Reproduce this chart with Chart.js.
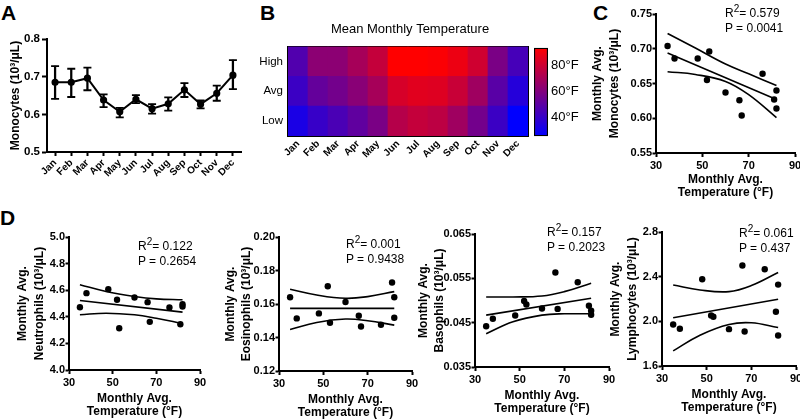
<!DOCTYPE html>
<html><head><meta charset="utf-8">
<script src="https://cdn.jsdelivr.net/npm/chart.js@4.4.1/dist/chart.umd.min.js"></script>
<style>
html,body{margin:0;padding:0;background:#fff;}
body{width:800px;height:419px;overflow:hidden;position:relative;font-family:"Liberation Sans",Arial,sans-serif;color:#000;}
canvas{position:absolute;}
.lbl{position:absolute;font-weight:bold;font-size:21px;line-height:21px;}
.stat{position:absolute;font-size:12px;line-height:14px;white-space:nowrap;}
.sup{position:relative;top:-5px;font-size:10px;}
</style></head><body>
<div class="lbl" style="left:1px;top:2px">A</div>
<div class="lbl" style="left:260px;top:2px">B</div>
<div class="lbl" style="left:593px;top:2px">C</div>
<div class="lbl" style="left:0px;top:207px">D</div>

<canvas id="cA" width="243" height="197" style="left:8px;top:0px"></canvas>
<canvas id="cB" width="324" height="162" style="left:248px;top:14px"></canvas>
<canvas id="cBar" width="80" height="110" style="left:520px;top:37px"></canvas>
<canvas id="cC" width="221" height="196" style="left:589px;top:4px"></canvas>
<canvas id="cD1" width="201" height="192" style="left:14px;top:227px"></canvas>
<canvas id="cD2" width="204" height="193" style="left:223px;top:227px"></canvas>
<canvas id="cD3" width="208" height="192" style="left:416px;top:224px"></canvas>
<canvas id="cD4" width="204" height="193" style="left:607px;top:222px"></canvas>

<div class="stat" style="left:725px;top:5.6px">R<span class="sup">2</span>= 0.579<br>P = 0.0041</div>
<div class="stat" style="left:138px;top:239px">R<span class="sup">2</span>= 0.122<br>P = 0.2654</div>
<div class="stat" style="left:346px;top:237px">R<span class="sup">2</span>= 0.001<br>P = 0.9438</div>
<div class="stat" style="left:547px;top:225px">R<span class="sup">2</span>= 0.157<br>P = 0.2023</div>
<div class="stat" style="left:739px;top:226px">R<span class="sup">2</span>= 0.061<br>P = 0.437</div>

<script>
// ---------------- DATA ----------------
const months = ['Jan','Feb','Mar','Apr','May','Jun','Jul','Aug','Sep','Oct','Nov','Dec'];

// Panel A: monthly monocytes mean with error bar limits
const monoMean    = [0.685,0.685,0.696,0.638,0.607,0.640,0.615,0.628,0.665,0.627,0.656,0.704];
const monoErrHigh = [0.728,0.721,0.724,0.653,0.617,0.651,0.627,0.645,0.683,0.637,0.676,0.744];
const monoErrLow  = [0.641,0.646,0.664,0.619,0.592,0.630,0.602,0.610,0.646,0.616,0.636,0.667];
const monoTicks = [0.5,0.6,0.7,0.8];

// Panel B: heat map temperatures (°F)
const heatRows = ['Low','Avg','High'];
const heatHigh = [47,63,63,70,78,94,94,93,89,81,58,44];
const heatAvg  = [41,52,56,62,70,83,86,85,79,68,49,35];
const heatLow  = [32,40,45,51,58,74,78,76,68,56,41,25];
const colorMin = 25, colorMax = 94;
const colorTicks = [40,60,80];

// Scatter panels: monthly average temperature (x)
const avgTemp = [35,38,48,52,53,60,66,67,76,81,82,82];
const tempTicks = [30,50,70,90];
const fitX  = [35,82];
const bandX = [35,47,60,70,82];

// C: monocytes
const monoAvg = [0.704,0.686,0.686,0.655,0.696,0.637,0.626,0.604,0.664,0.627,0.640,0.614];
const monoFit = [0.694,0.627];
const monoUp  = [0.722,0.701,0.678,0.664,0.647];
const monoLo  = [0.667,0.663,0.653,0.634,0.601];
const monoAvgTicks = [0.55,0.60,0.65,0.70,0.75];

// D1: neutrophils
const neutAvg = [4.472,4.578,4.608,4.528,4.314,4.545,4.510,4.362,4.470,4.344,4.495,4.477];
const neutFit = [4.523,4.435];
const neutUp  = [4.641,4.590,4.553,4.535,4.528];
const neutLo  = [4.415,4.427,4.415,4.389,4.349];
const neutTicks = [4.0,4.2,4.4,4.6,4.8,5.0];

// D2: eosinophils
const eosAvg = [0.164,0.1514,0.1544,0.1706,0.1488,0.1612,0.153,0.1466,0.1476,0.1728,0.164,0.1518];
const eosFit = [0.1574,0.1574];
const eosUp  = [0.1688,0.1654,0.1634,0.1644,0.1674];
const eosLo  = [0.1448,0.1490,0.1510,0.1500,0.1474];
const eosTicks = [0.12,0.14,0.16,0.18,0.20];

// D3: basophils
const basoAvg = [0.0442,0.0459,0.0466,0.0499,0.0491,0.0482,0.0563,0.0481,0.0541,0.0488,0.0477,0.0468];
const basoFit = [0.0467,0.0505];
const basoUp  = [0.0508,0.0508,0.0510,0.0520,0.0539];
const basoLo  = [0.0425,0.0452,0.0467,0.0470,0.0470];
const basoTicks = [0.035,0.045,0.055,0.065];

// D4: lymphocytes
const lymphAvg = [1.972,1.933,2.377,2.053,2.041,1.930,2.500,1.909,2.467,2.086,2.329,1.873];
const lymphFit = [2.032,2.197];
const lymphUp  = [2.326,2.281,2.266,2.320,2.437];
const lymphLo  = [1.735,1.876,1.972,1.987,1.945];
const lymphTicks = [1.6,2.0,2.4,2.8];

// ---------------- SETUP ----------------
Chart.defaults.font.family = '"Liberation Sans", Arial, sans-serif';
Chart.defaults.color = '#000';
Chart.defaults.animation = false;
Chart.defaults.responsive = false;
Chart.defaults.plugins.legend.display = false;
Chart.defaults.plugins.tooltip.enabled = false;

const BLACK = '#000';
const border2 = {display:true, color:BLACK, width:2};

function tempColor(v){
  let t = (v - colorMin)/(colorMax - colorMin);
  t = Math.max(0, Math.min(1, t));
  return `rgb(${Math.round(255*t)},0,${Math.round(255*(1-t))})`;
}

function yAxis(o){
  return {
    type:'linear', min:o.ticks[0], max:o.ticks[o.ticks.length-1],
    afterBuildTicks: ax => { ax.ticks = o.ticks.map(v => ({value:v})); },
    afterFit: ax => { ax.width = o.width; },
    ticks:{font:{size:o.fs, weight:'bold'}, padding:o.pad, autoSkip:false, callback: v => Number(v).toFixed(o.dec)},
    grid:{display:true, drawOnChartArea:false, drawTicks:true, tickLength:o.tl, tickWidth:2, tickColor:BLACK},
    border:border2,
    title:{display:true, text:o.title, font:{size:12, weight:'bold', lineHeight:o.lh}, padding:{top:0, bottom:0}, color:BLACK}
  };
}
function xTempAxis(H){
  return {
    type:'linear', min:30, max:90,
    afterBuildTicks: ax => { ax.ticks = tempTicks.map(v => ({value:v})); },
    afterFit: ax => { ax.height = H; },
    ticks:{font:{size:11, weight:'bold'}, padding:2.5, maxRotation:0, autoSkip:false},
    grid:{display:true, drawOnChartArea:false, drawTicks:true, tickLength:4, tickWidth:2, tickColor:BLACK},
    border:border2,
    title:{display:true, text:['Monthly Avg.','Temperature (°F)'], font:{size:12, weight:'bold', lineHeight:1.15}, padding:{top:0, bottom:0}, color:BLACK}
  };
}
function scatterPanel(id, vals, fit, up, lo, yo, H){
  const lineDs = (xs, ys, tension) => ({
    data: xs.map((x,i) => ({x, y:ys[i]})), showLine:true, pointRadius:0,
    borderColor:BLACK, borderWidth:1.6, tension:tension, fill:false
  });
  yo.fs = 11; yo.pad = 0.5; yo.tl = 3.5;
  new Chart(document.getElementById(id), {
    type:'scatter',
    data:{datasets:[
      {data: avgTemp.map((x,i) => ({x, y:vals[i]})), showLine:false, pointRadius:3.2,
       pointBackgroundColor:BLACK, pointBorderColor:BLACK, pointBorderWidth:0},
      lineDs(fitX, fit, 0),
      lineDs(bandX, up, 0.4),
      lineDs(bandX, lo, 0.4)
    ]},
    options:{
      layout:{padding:{left:0, top:10, right:15, bottom:0}},
      scales:{x:xTempAxis(H), y:yAxis(yo)}
    }
  });
}

// ---------------- PANEL A ----------------
new Chart(document.getElementById('cA'), {
  type:'line',
  data:{labels:months, datasets:[
    {type:'line', data:monoMean, borderColor:BLACK, borderWidth:2, pointRadius:2.6,
     pointBackgroundColor:BLACK, pointBorderColor:BLACK, tension:0, order:0},
    {type:'bar', data:monoErrLow.map((l,i) => [l, monoErrHigh[i]]), backgroundColor:BLACK,
     barThickness:1.6, order:1},
    {type:'line', data:monoErrHigh, showLine:false, pointStyle:'line', pointRadius:4,
     pointBorderColor:BLACK, pointBorderWidth:1.8, order:2},
    {type:'line', data:monoErrLow, showLine:false, pointStyle:'line', pointRadius:4,
     pointBorderColor:BLACK, pointBorderWidth:1.8, order:2}
  ]},
  options:{
    layout:{padding:{left:0, top:39, right:10, bottom:0}},
    scales:{
      x:{type:'category', offset:true,
         afterFit: ax => { ax.height = 45; },
         ticks:{font:{size:10, weight:'bold'}, minRotation:45, maxRotation:45, padding:1, autoSkip:false},
         grid:{display:true, offset:false, drawOnChartArea:false, drawTicks:true, tickLength:4, tickWidth:2, tickColor:BLACK},
         border:border2},
      y: yAxis({ticks:monoTicks, dec:1, width:39, title:'Monocytes (10³/μL)', lh:1.2, fs:11.5, pad:2, tl:5})
    }
  }
});

// ---------------- PANEL B (heat map) ----------------
new Chart(document.getElementById('cB'), {
  type:'bar',
  data:{labels:months, datasets:[
    {label:'Low',  data:heatLow.map(() => 1),  backgroundColor:heatLow.map(tempColor),  borderWidth:0},
    {label:'Avg',  data:heatAvg.map(() => 1),  backgroundColor:heatAvg.map(tempColor),  borderWidth:0},
    {label:'High', data:heatHigh.map(() => 1), backgroundColor:heatHigh.map(tempColor), borderWidth:0}
  ]},
  options:{
    layout:{padding:{left:0, top:0, right:0, bottom:0}},
    datasets:{bar:{barPercentage:1, categoryPercentage:1}},
    plugins:{title:{display:true, text:'Mean Monthly Temperature', font:{size:13, weight:'normal', lineHeight:1.2},
                    padding:{top:8, bottom:9}, color:BLACK}},
    scales:{
      x:{stacked:true, offset:true, afterFit: ax => { ax.height = 40; },
         ticks:{font:{size:10, weight:'bold'}, minRotation:45, maxRotation:45, padding:2, autoSkip:false},
         grid:{display:false, drawTicks:false}, border:border2},
      y:{stacked:true, min:0, max:3,
         afterBuildTicks: ax => { ax.ticks = [0.5,1.5,2.5].map(v => ({value:v})); },
         afterFit: ax => { ax.width = 40; },
         ticks:{font:{size:11.5}, padding:5, callback: v => heatRows[Math.floor(v)]},
         grid:{display:false, drawTicks:false}, border:border2},
      x2:{type:'linear', position:'top', display:true, ticks:{display:false}, grid:{display:false, drawTicks:false},
          border:border2, afterFit: ax => { ax.height = 0; }},
      y2:{type:'linear', position:'right', display:true, ticks:{display:false}, grid:{display:false, drawTicks:false},
          border:border2, afterFit: ax => { ax.width = 44; }}
    }
  }
});

// colour bar
new Chart(document.getElementById('cBar'), {
  type:'bar',
  data:{labels:[''], datasets:[{
    data:[[colorMin, colorMax]],
    backgroundColor: c => {
      const ca = c.chart.chartArea;
      if (!ca) return 'rgb(128,0,128)';
      const g = c.chart.ctx.createLinearGradient(0, ca.bottom, 0, ca.top);
      g.addColorStop(0, tempColor(colorMin));
      g.addColorStop(1, tempColor(colorMax));
      return g;
    },
    borderColor:BLACK, borderWidth:1.5, borderSkipped:false, barPercentage:1, categoryPercentage:1
  }]},
  options:{
    layout:{padding:{left:14, top:10, right:2, bottom:10}},
    scales:{
      x:{display:false},
      y:{position:'right', min:colorMin, max:colorMax,
         afterBuildTicks: ax => { ax.ticks = colorTicks.map(v => ({value:v})); },
         afterFit: ax => { ax.width = 50; },
         ticks:{font:{size:13}, padding:3, callback: v => v + '°F'},
         grid:{display:false, drawTicks:false}, border:{display:false}}
    }
  }
});

// ---------------- PANEL C ----------------
scatterPanel('cC', monoAvg, monoFit, monoUp, monoLo,
  {ticks:monoAvgTicks, dec:2, width:67, title:['Monthly Avg.','Monocytes (10³/μL)'], lh:1.45}, 47);

// ---------------- PANEL D ----------------
scatterPanel('cD1', neutAvg, neutFit, neutUp, neutLo,
  {ticks:neutTicks, dec:1, width:55, title:['Monthly Avg.','Neutrophils (10³/μL)'], lh:1.4}, 49);
scatterPanel('cD2', eosAvg, eosFit, eosUp, eosLo,
  {ticks:eosTicks, dec:2, width:56, title:['Monthly Avg.','Eosinophils (10³/μL)'], lh:1.3}, 49);
scatterPanel('cD3', basoAvg, basoFit, basoUp, basoLo,
  {ticks:basoTicks, dec:3, width:59, title:['Monthly Avg.','Basophils (10³/μL)'], lh:1.3}, 49);
scatterPanel('cD4', lymphAvg, lymphFit, lymphUp, lymphLo,
  {ticks:lymphTicks, dec:1, width:55, title:['Monthly Avg.','Lymphocytes (10³/μL)'], lh:1.45}, 49);
</script>
</body></html>
